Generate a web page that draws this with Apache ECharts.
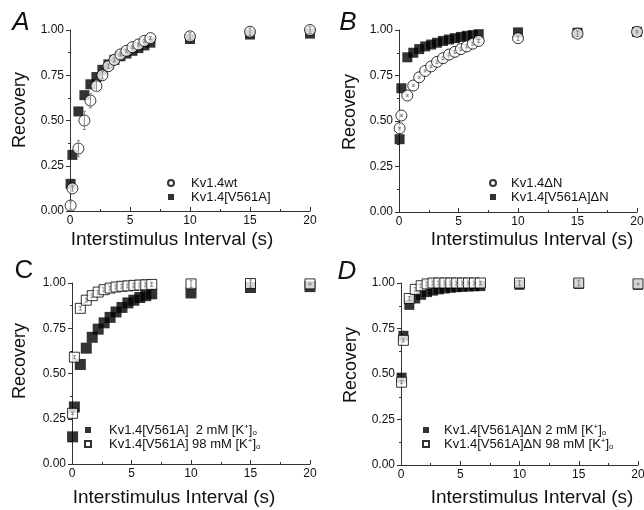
<!DOCTYPE html>
<html><head><meta charset="utf-8">
<script src="https://cdn.jsdelivr.net/npm/echarts@6/dist/echarts.min.js"></script>
<style>html,body{margin:0;padding:0;background:#fff}#c{width:644px;height:510px}</style>
</head><body><div id="c"></div>
<script>
// Interstimulus intervals (s)
const T = [0.05, 0.2, 0.7, 1.2, 1.7, 2.2, 2.7, 3.2, 3.7, 4.2, 4.7, 5.2, 5.7, 6.2, 6.7, 10, 15, 20];
const xTicks = [0, 5, 10, 15, 20];
const yTicks = [0, 0.25, 0.5, 0.75, 1.0];

// Panel A
const A_wt     = [0.03, 0.125, 0.345, 0.50, 0.61, 0.69, 0.75, 0.80, 0.835, 0.865, 0.885, 0.905, 0.92, 0.94, 0.955, 0.965, 0.99, 1.0];
const A_wtErr  = [0.02, 0.015, 0.045, 0.05, 0.04, 0.03, 0.02, 0.012, 0.01, 0.008, 0.008, 0.008, 0.008, 0.008, 0.008, 0.02, 0.02, 0.02];
const A_mut    = [0.15, 0.31, 0.55, 0.64, 0.70, 0.74, 0.78, 0.81, 0.835, 0.855, 0.87, 0.885, 0.90, 0.915, 0.93, 0.95, 0.975, 0.98];
// Panel B
const B_dN     = [0.46, 0.53, 0.64, 0.695, 0.74, 0.775, 0.80, 0.825, 0.845, 0.865, 0.88, 0.895, 0.91, 0.925, 0.94, 0.955, 0.98, 0.99];
const B_dNErr  = [0.004, 0.004, 0.004, 0.004, 0.005, 0.005, 0.006, 0.008, 0.008, 0.008, 0.008, 0.008, 0.008, 0.008, 0.008, 0.012, 0.015, 0.006];
const B_mutdN  = [0.40, 0.68, 0.85, 0.875, 0.895, 0.91, 0.92, 0.93, 0.94, 0.948, 0.955, 0.962, 0.968, 0.972, 0.977, 0.987, 0.985, 0.99];
// Panel C
const C_2mM    = [0.15, 0.315, 0.55, 0.64, 0.70, 0.745, 0.78, 0.81, 0.84, 0.865, 0.89, 0.905, 0.92, 0.93, 0.94, 0.945, 0.975, 0.98];
const C_98mM   = [0.28, 0.59, 0.86, 0.905, 0.93, 0.95, 0.963, 0.972, 0.978, 0.982, 0.984, 0.987, 0.989, 0.99, 0.992, 0.995, 0.997, 0.995];
const C_98Err  = [0.006, 0.008, 0.01, 0.01, 0.01, 0.01, 0.01, 0.01, 0.01, 0.01, 0.01, 0.01, 0.01, 0.01, 0.01, 0.02, 0.02, 0.004];
// Panel D
const D_2mM    = [0.48, 0.71, 0.88, 0.915, 0.935, 0.95, 0.958, 0.965, 0.97, 0.974, 0.977, 0.979, 0.981, 0.982, 0.983, 0.99, 0.995, 0.99];
const D_98mM   = [0.455, 0.685, 0.915, 0.965, 0.985, 0.995, 1.0, 1.0, 1.0, 1.0, 1.0, 1.0, 1.0, 1.0, 1.0, 1.0, 1.0, 0.995];
const D_98Err  = [0.008, 0.008, 0.01, 0.01, 0.01, 0.01, 0.01, 0.01, 0.01, 0.01, 0.01, 0.01, 0.01, 0.01, 0.01, 0.015, 0.015, 0.004];

const names = {
  a1: 'Kv1.4wt', a2: 'Kv1.4[V561A]',
  b1: 'Kv1.4\u0394N', b2: 'Kv1.4[V561A]\u0394N',
  c1: 'Kv1.4[V561A]  2 mM [K+]o', c2: 'Kv1.4[V561A] 98 mM [K+]o',
  d1: 'Kv1.4[V561A]\u0394N 2 mM [K+]o', d2: 'Kv1.4[V561A]\u0394N 98 mM [K+]o'
};

const FONT = 'Liberation Sans, Arial, sans-serif';
const grids = [
  {left: 70, top: 30, width: 240, height: 181},
  {left: 399, top: 30, width: 238, height: 182},
  {left: 72, top: 283, width: 238, height: 181},
  {left: 401, top: 283, width: 237, height: 182}
];
const pair = (xs, ys) => xs.map((x, i) => [x, ys[i]]);
const triple = (xs, ys, es) => xs.map((x, i) => [x, ys[i], es[i]]);

function xAxis(i) {
  return {
    gridIndex: i, type: 'value', min: 0, max: 20, interval: 5,
    axisLine: {show: true, lineStyle: {color: '#333', width: 1}},
    axisTick: {show: true, inside: true, length: 4, lineStyle: {color: '#333'}},
    minorTick: {show: true, splitNumber: 2, length: 2, lineStyle: {color: '#333'}},
    splitLine: {show: false},
    axisLabel: {fontFamily: FONT, fontSize: 12, color: '#111', margin: 4,
      customValues: xTicks, formatter: v => String(v)}
  };
}
function yAxis(i) {
  return {
    gridIndex: i, type: 'value', min: 0, max: 1, interval: 0.25,
    axisLine: {show: true, onZero: false, lineStyle: {color: '#333', width: 1}},
    axisTick: {show: true, inside: false, length: 4, lineStyle: {color: '#333'}},
    minorTick: {show: true, splitNumber: 2, length: 2, lineStyle: {color: '#333'}},
    splitLine: {show: false},
    axisLabel: {fontFamily: FONT, fontSize: 12, color: '#111', margin: 6,
      customValues: yTicks, formatter: v => v.toFixed(2)}
  };
}
const open = {color: '#fff', borderColor: '#000', borderWidth: 1};
const filled = {color: '#000', borderColor: '#000', borderWidth: 0};
function sc(name, i, data, symbol, style, size, z) {
  return {name, type: 'scatter', xAxisIndex: i, yAxisIndex: i, data, symbol,
    symbolSize: size, itemStyle: style, clip: false, z: z || 2,
    emphasis: {disabled: true}};
}
function errs(i, data) {
  return {type: 'custom', xAxisIndex: i, yAxisIndex: i, data, clip: false, z: 5,
    silent: true,
    renderItem: function (params, api) {
      const x = api.value(0), y = api.value(1), e = api.value(2);
      const p1 = api.coord([x, y + e]), p2 = api.coord([x, y - e]);
      const s = {stroke: '#888', lineWidth: 1};
      return {type: 'group', children: [
        {type: 'line', shape: {x1: p1[0], y1: p1[1], x2: p2[0], y2: p2[1]}, style: s},
        {type: 'line', shape: {x1: p1[0] - 1.5, y1: p1[1], x2: p1[0] + 1.5, y2: p1[1]}, style: s},
        {type: 'line', shape: {x1: p2[0] - 1.5, y1: p2[1], x2: p2[0] + 1.5, y2: p2[1]}, style: s}
      ]};
    }};
}
const rich = {
  sup: {fontFamily: FONT, fontSize: 8, color: '#111', verticalAlign: 'top', lineHeight: 5},
  sub: {fontFamily: FONT, fontSize: 8, color: '#111', verticalAlign: 'bottom', lineHeight: 3}
};
function legFmt(n) {
  return n.replace('[K+]o', '[K{sup|+}]{sub|o}');
}
function legend(dataNames, left, top, pad) {
  return {orient: 'vertical', left, top, itemGap: 0, itemWidth: 6, itemHeight: 6,
    data: dataNames, selectedMode: false, padding: 0,
    textStyle: {fontFamily: FONT, fontSize: 13, color: '#111', lineHeight: 14, padding: [0, 0, 0, pad], rich},
    formatter: legFmt};
}
function txt(text, x, y, size, opts) {
  return Object.assign({type: 'text', x, y, style: {text, fontFamily: FONT, fontSize: size,
    fill: '#111', align: 'center', verticalAlign: 'middle', fontStyle: (opts && opts.italic) ? 'italic' : 'normal'}},
    opts && opts.rotation ? {rotation: opts.rotation} : {});
}

const chart = echarts.init(document.getElementById('c'), null, {renderer: 'canvas'});
chart.setOption({
  animation: false,
  backgroundColor: '#fff',
  grid: grids.map(g => Object.assign({outerBoundsMode: 'none', containLabel: false}, g)),
  xAxis: [0, 1, 2, 3].map(xAxis),
  yAxis: [0, 1, 2, 3].map(yAxis),
  legend: [
    legend([names.a1, names.a2], 167, 176, 12),
    legend([names.b1, names.b2], 489, 176, 10),
    legend([names.c1, names.c2], 84, 423, 13),
    legend([names.d1, names.d2], 422, 423, 10)
  ],
  series: [
    sc(names.a2, 0, pair(T, A_mut), 'rect', filled, 10, 2),
    sc(names.a1, 0, pair(T, A_wt), 'circle', open, 11, 3),
    errs(0, triple(T, A_wt, A_wtErr)),
    sc(names.b2, 1, pair(T, B_mutdN), 'rect', filled, 10, 2),
    sc(names.b1, 1, pair(T, B_dN), 'circle', open, 11, 3),
    errs(1, triple(T, B_dN, B_dNErr)),
    sc(names.c1, 2, pair(T, C_2mM), 'rect', filled, 11, 2),
    sc(names.c2, 2, pair(T, C_98mM), 'rect', open, 10, 3),
    errs(2, triple(T, C_98mM, C_98Err)),
    sc(names.d1, 3, pair(T, D_2mM), 'rect', filled, 10, 2),
    sc(names.d2, 3, pair(T, D_98mM), 'rect', open, 10, 3),
    errs(3, triple(T, D_98mM, D_98Err))
  ],
  graphic: [
    txt('A', 21, 23, 26, {italic: true}),
    txt('B', 348, 23, 26, {italic: true}),
    txt('C', 24, 271, 26, {italic: false}),
    txt('D', 347, 272, 26, {italic: true}),
    txt('Recovery', 20, 110, 18, {rotation: Math.PI / 2}),
    txt('Recovery', 350, 112, 18, {rotation: Math.PI / 2}),
    txt('Recovery', 20, 361, 18, {rotation: Math.PI / 2}),
    txt('Recovery', 351, 365, 18, {rotation: Math.PI / 2}),
    txt('Interstimulus Interval (s)', 172, 240, 19),
    txt('Interstimulus Interval (s)', 532, 240, 19),
    txt('Interstimulus Interval (s)', 174, 498, 19),
    txt('Interstimulus Interval (s)', 532, 498, 19)
  ]
});
</script></body></html>
